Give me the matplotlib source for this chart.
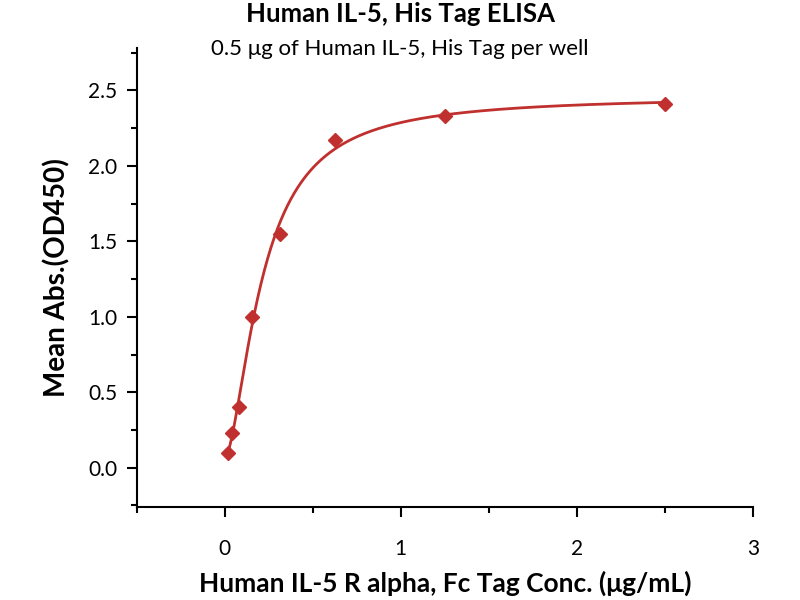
import numpy as np
import matplotlib
matplotlib.use("Agg")
import matplotlib.pyplot as plt
from matplotlib.ticker import MultipleLocator

# ELISA data
conc = [0.0195, 0.039, 0.078, 0.156, 0.3125, 0.625, 1.25, 2.5]
od450 = [0.10, 0.23, 0.40, 1.00, 1.55, 2.17, 2.33, 2.41]

title = "Human IL-5, His Tag ELISA"
subtitle = "0.5 \u03bcg of Human IL-5, His Tag per well"
xlabel = "Human IL-5 R alpha, Fc Tag Conc. (\u03bcg/mL)"
ylabel = "Mean Abs.(OD450)"

red = "#c0302e"
plt.rcParams['font.family'] = ['Lato', 'DejaVu Sans']


# 4-parameter logistic fit: grid over ec50/hill, linear solve for bottom/top
def fit_4pl(x, y):
    x = np.asarray(x)
    y = np.asarray(y)
    best = None
    for ec50 in np.linspace(0.05, 1.5, 300):
        for hill in np.linspace(0.5, 3.0, 200):
            s = 1.0 / (1.0 + (ec50 / x) ** hill)
            A = np.column_stack([1 - s, s])
            coef, res, _, _ = np.linalg.lstsq(A, y, rcond=None)
            err = np.sum((A @ coef - y) ** 2)
            if best is None or err < best[0]:
                best = (err, coef[0], coef[1], ec50, hill)
    return best[1:]


bottom, top, ec50, hill = fit_4pl(conc, od450)
xs = np.linspace(min(conc), max(conc), 400)
ys = bottom + (top - bottom) / (1.0 + (ec50 / xs) ** hill)

fig = plt.figure(figsize=(8, 6), dpi=100)
ax = fig.add_axes([0.171, 0.155, 0.77, 0.765])

ax.plot(xs, ys, color=red, lw=2)
ax.plot(conc, od450, 'D', color=red, ms=7.5, mec=red)

ax.set_xlim(-0.5, 3)
ax.set_ylim(-0.26, 2.78)
ax.xaxis.set_major_locator(MultipleLocator(1))
ax.xaxis.set_minor_locator(MultipleLocator(0.5))
ax.yaxis.set_major_locator(MultipleLocator(0.5))
ax.yaxis.set_minor_locator(MultipleLocator(0.25))
ax.yaxis.set_major_formatter(matplotlib.ticker.FormatStrFormatter('%.1f'))

ax.spines['top'].set_visible(False)
ax.spines['right'].set_visible(False)
ax.spines['left'].set_linewidth(1.5)
ax.spines['bottom'].set_linewidth(1.5)
ax.tick_params(which='major', direction='out', length=7, width=1.5, labelsize=15)
ax.tick_params(axis='x', which='major', pad=16)
ax.tick_params(axis='y', which='major', pad=7)
ax.tick_params(which='minor', direction='out', length=4, width=1.5)

ax.set_xlabel(xlabel, fontsize=19, fontweight='bold', va='center')
ax.xaxis.set_label_coords(0.5, -0.167)
ax.set_ylabel(ylabel, fontsize=20, fontweight='bold', va='center')
ax.yaxis.set_label_coords(-0.13, 0.5)

fig.text(0.5, 0.976, title, ha='center', va='center', fontsize=18.5, fontweight='bold')
fig.text(0.5, 0.919, subtitle, ha='center', va='center', fontsize=16)

plt.savefig('out.png', dpi=100)
